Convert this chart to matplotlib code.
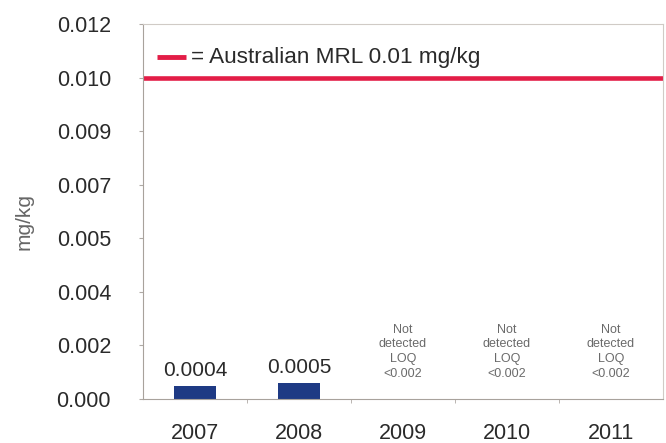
import numpy as np
import matplotlib.pyplot as plt

years = ["2007", "2008", "2009", "2010", "2011"]
residue = [0.0004, 0.0005, None, None, None]
residue_labels = ["0.0004", "0.0005"]
not_detected = "Not\ndetected\nLOQ\n<0.002"
mrl = 0.01
ytick_labels = ["0.000", "0.002", "0.004", "0.005", "0.007", "0.009", "0.010", "0.012"]

plt.rcParams["font.family"] = ["Liberation Sans", "DejaVu Sans"]

fig = plt.figure(figsize=(6.66, 4.43), dpi=100)
ax = fig.add_axes([0.2147, 0.0993, 0.7808, 0.8465])

x = np.arange(len(years))
ymax = mrl * 7 / 6

# bars for the years with a detected residue
for i, v in enumerate(residue):
    if v is None:
        ax.text(i, 0.0006, not_detected, ha="center", va="bottom",
                fontsize=9, color="#6a6a6a", linespacing=1.3)
    else:
        ax.bar(i, v, width=0.4, color="#1e3a84")
        ax.text(i, v + 0.0002, residue_labels[i], ha="center", va="bottom",
                fontsize=15, color="#2a2a2a")

# maximum residue limit
ax.axhline(mrl, color="#e31d47", lw=3.3)
ax.plot([0.027, 0.083], [0.912, 0.912], transform=ax.transAxes, color="#e31d47", lw=3.5,
        solid_capstyle="butt")
ax.text(0.092, 0.912, "= Australian MRL 0.01 mg/kg", transform=ax.transAxes,
        ha="left", va="center", fontsize=16.2, color="#2a2a2a")

ax.set_xlim(-0.5, len(years) - 0.5)
ax.set_ylim(0, ymax)
ax.set_yticks(np.linspace(0, ymax, len(ytick_labels)))
ax.set_yticklabels(ytick_labels)
ax.set_xticks(x)
ax.set_xticklabels(years)
ax.set_xticks(np.arange(len(years) - 1) + 0.5, minor=True)

ax.tick_params(axis="y", length=3, pad=20, labelsize=15.5, color="#b0aaa5", labelcolor="#2a2a2a")
ax.tick_params(axis="x", which="major", length=0, pad=17, labelsize=15.5, labelcolor="#2a2a2a")
ax.tick_params(axis="x", which="minor", length=3, color="#b0aaa5")

for s in ax.spines.values():
    s.set_color("#d0cbc6")
    s.set_linewidth(0.8)
ax.spines["left"].set_color("#a8a29c")
ax.spines["bottom"].set_color("#a8a29c")

fig.text(0.036, 0.5, "mg/kg", rotation=90, ha="center", va="center",
         fontsize=15, color="#666666")

fig.savefig("out.png", dpi=100)
